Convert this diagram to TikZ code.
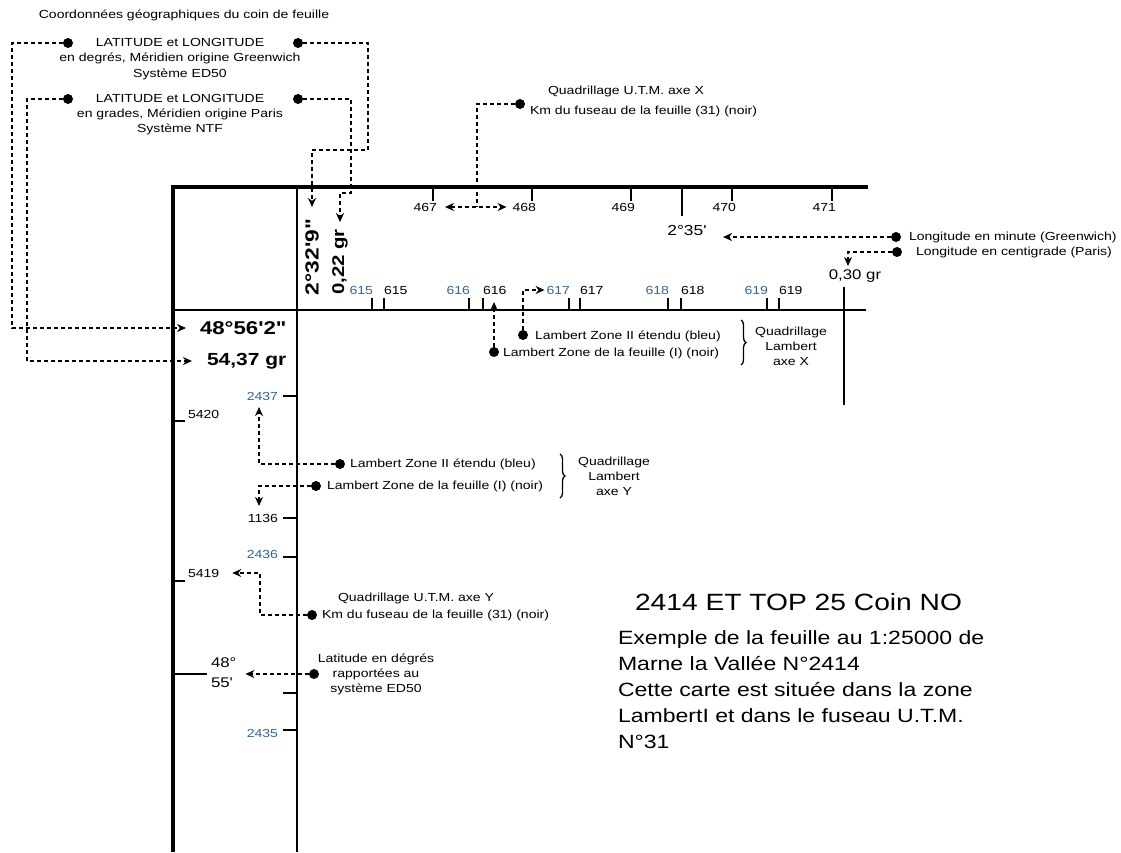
\documentclass[tikz,border=0pt]{standalone}
\usepackage{fontspec}
\setmainfont{Liberation Sans}[FakeStretch=1.2,Ligatures=TeXOff]
\usetikzlibrary{arrows.meta,decorations.pathreplacing,calc}
\definecolor{lblue}{RGB}{50,100,160}
\begin{document}
\begin{tikzpicture}[x=1pt,y=-1pt,
  every node/.style={inner sep=0pt, outer sep=0pt},
  txt/.style={font=\fontsize{11.7}{15}\selectfont},
  bluelbl/.style={txt, text=lblue},
  dot/.style={circle, fill=black, minimum size=10pt},
  conn/.style={line width=1.7pt, dash pattern=on 4pt off 3pt},
  tip/.style={-{Stealth[length=9pt,width=8pt]}},
  frame/.style={line width=4pt, line join=miter},
  thinline/.style={line width=1.3pt},
  tickline/.style={line width=1.3pt},
  bracestyle/.style={line width=1.3pt, decorate, decoration={brace, amplitude=5pt}}
]
\useasboundingbox (0,0) rectangle (1121,852);

% frame
\draw[frame] (173,852) -- (173,187) -- (868,187);
\draw[thinline] (297,187) -- (297,852);
\draw[thinline] (173,310) -- (866,310);
\draw[thinline] (844,287) -- (844,405);

% title block
\node[txt] (title) at (184,15) {Coordonnées géographiques du coin de feuille};
\node[txt, align=center, font=\fontsize{11.7}{15.5}\selectfont] (ed50) at (180,59) {LATITUDE et LONGITUDE\\en degrés, Méridien origine Greenwich\\Système ED50};
\node[txt, align=center, font=\fontsize{11.7}{15}\selectfont] (ntf) at (180,115) {LATITUDE et LONGITUDE\\en grades, Méridien origine Paris\\Système NTF};
\node[dot] (dA1) at (68,43) {};
\node[dot] (dA2) at (298,43) {};
\node[dot] (dB1) at (68,99) {};
\node[dot] (dB2) at (298,99) {};

% corner values
\node[font=\bfseries\fontsize{18.5}{19}\selectfont, anchor=west] (lat48) at (200,328) {48°56'2"};
\node[font=\bfseries\fontsize{17.5}{19}\selectfont, anchor=west] (gr54) at (207,361) {54,37 gr};
\node[font=\bfseries\fontsize{19}{19}\selectfont, rotate=90] (v232) at (312,257) {2°32'9"};
\node[font=\bfseries\fontsize{17}{17}\selectfont, rotate=90] (v022) at (340,262) {0,22 gr};

\draw[conn,tip,shorten >=14pt] (dA1.west) -- ++(-51,0) |- (lat48.west);
\draw[conn,tip,shorten >=15pt] (dB1.west) -- ++(-36,0) |- (gr54.west);
\draw[conn,tip,shorten >=12pt] (dA2.east) -- ++(65,0) -- ++(0,107) -| (v232.east);
\draw[conn,tip,shorten >=7pt] (dB2.east) -- ++(48,0) -- ++(0,94) -- ++(-11,0) -- (v022.east);

% top UTM ticks
\foreach \x/\t in {433/467,532/468,631/469,732/470,832/471}{
  \draw[tickline] (\x,187) -- (\x,201);
  \node[txt, anchor=east] (l\t) at (\x+4,207) {\t};
}
\draw[tickline] (682,187) -- (682,216);
\node[font=\fontsize{14.5}{15}\selectfont] (l235) at (687,231) {2°35'};

\node[dot] (dU) at (520,104) {};
\node[txt, anchor=west] (qU) at (548,91) {Quadrillage U.T.M. axe X};
\node[txt, anchor=west] (kU) at (530,111) {Km du fuseau de la feuille (31) (noir)};
\coordinate (jU) at (477,207);
\draw[conn] (dU.west) -| (jU);
\draw[conn,{Stealth[length=9pt,width=8pt]}-{Stealth[length=9pt,width=8pt]}, shorten <=8pt, shorten >=6pt] (l467.east) -- (l468.west);

% longitude
\node[dot] (dLm) at (896,237) {};
\node[dot] (dLc) at (897,252) {};
\node[txt, anchor=west] (tLm) at (909,237) {Longitude en minute (Greenwich)};
\node[txt, anchor=west] (tLc) at (916,252) {Longitude en centigrade (Paris)};
\coordinate (t235) at (723,237);
\draw[conn,tip] (dLm.west) -- (t235);
\coordinate (t030) at (848,266);
\draw[conn,tip] (dLc.west) -| (t030);
\node[font=\fontsize{14}{15}\selectfont] (l030) at (855,276) {0,30 gr};

% Lambert X ticks
\foreach \b/\k/\n in {372/384/615,469/483/616,569/580/617,668/681/618,767/779/619}{
  \draw[tickline] (\b,298) -- (\b,310);
  \draw[tickline] (\k,298) -- (\k,310);
  \node[bluelbl, anchor=east] (lb\n) at (\b+1,290) {\n};
  \node[txt, anchor=west] (lk\n) at (\k,290) {\n};
}
\node[dot] (dLx2) at (523,335) {};
\node[dot] (dLx1) at (494,352) {};
\node[txt, anchor=west] (tLx2) at (535,336) {Lambert Zone II étendu (bleu)};
\node[txt, anchor=west] (tLx1) at (503,353) {Lambert Zone de la feuille (I) (noir)};
\coordinate (c616) at (494,302);
\draw[conn,tip] (dLx1.north) -- (c616);
\draw[conn,tip,shorten >=2pt] (dLx2.north) |- (lb617.west);
\draw[bracestyle] (741,320) -- (741,365);
\node[txt, align=center] (qLx) at (791,346) {Quadrillage\\Lambert\\axe X};

% left Y axis ticks
\foreach \y/\ly/\t in {396/396/2437,557/554/2436,730/733/2435}{
  \draw[tickline] (283,\y) -- (297,\y);
  \node[bluelbl, anchor=east] (ly\t) at (278,\ly) {\t};
}
\draw[tickline] (283,518) -- (297,518);
\node[txt, anchor=east] (l1136) at (278,518) {1136};
\draw[tickline] (283,693) -- (297,693);
\draw[tickline] (173,421) -- (185,421);
\node[txt, anchor=west] (l5420) at (188,414) {5420};
\draw[tickline] (173,581) -- (185,581);
\node[txt, anchor=west] (l5419) at (188,573) {5419};

% Lambert Y
\node[dot] (dLy1) at (340,464) {};
\node[dot] (dLy2) at (316,486) {};
\node[txt, anchor=west] (tLy1) at (350,464) {Lambert Zone II étendu (bleu)};
\node[txt, anchor=west] (tLy2) at (327,486) {Lambert Zone de la feuille (I) (noir)};
\coordinate (c2437) at (259,407);
\draw[conn,tip] (dLy1.west) -| (c2437);
\coordinate (c1136) at (259,506);
\draw[conn,tip] (dLy2.west) -| (c1136);
\draw[bracestyle] (560,454) -- (560,498);
\node[txt, align=center] (qLy) at (614,476) {Quadrillage\\Lambert\\axe Y};

% UTM Y
\node[dot] (dUy) at (312,615) {};
\node[txt, anchor=west] (qUy) at (338,598) {Quadrillage U.T.M. axe Y};
\node[txt, anchor=west] (kUy) at (322,615) {Km du fuseau de la feuille (31) (noir)};
\coordinate (jUy) at (260,573);
\draw[conn,tip,shorten >=13pt] (dUy.west) -| (jUy) -- (l5419.east);

% latitude ED50
\draw[line width=2pt] (173,674) -- (207,674);
\node[font=\fontsize{14}{20}\selectfont, align=left, anchor=west] (l4855) at (211,673) {48°\\55'};
\node[dot] (dLat) at (314,674) {};
\node[txt, align=center] (tLat) at (376,674) {Latitude en dégrés\\rapportées au\\système ED50};
\draw[conn,tip,shorten >=9pt] (dLat.west) -- (dLat.west -| l4855.east);

% right text
\node[font=\fontsize{23.5}{26}\selectfont, anchor=west] (big) at (635,602) {2414 ET TOP 25 Coin NO};
\node[font=\fontsize{19.2}{26}\selectfont, align=left, anchor=west] (para) at (618,690) {Exemple de la feuille au 1:25000 de\\Marne la Vallée N°2414\\Cette carte est située dans la zone\\LambertI et dans le fuseau U.T.M.\\N°31};
\end{tikzpicture}
\end{document}
